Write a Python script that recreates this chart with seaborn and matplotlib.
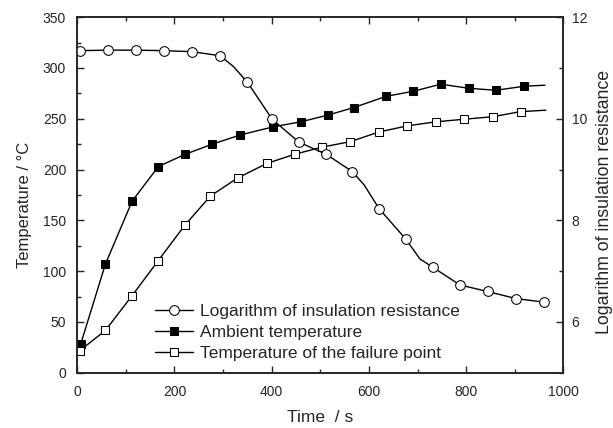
import numpy as np
import matplotlib
matplotlib.use("Agg")
import matplotlib.pyplot as plt
import seaborn as sns
from matplotlib.ticker import MultipleLocator

# data
t_res = [5, 63, 121, 178, 236, 294, 321, 350, 401, 456, 512, 566, 590, 621, 676, 705, 731, 787, 844, 903, 961]
log_res = [11.34, 11.35, 11.35, 11.34, 11.32, 11.24, 11.03, 10.72, 9.99, 9.54, 9.30, 8.96, 8.70,
           8.23, 7.63, 7.24, 7.08, 6.73, 6.60, 6.46, 6.39]
res_marks = [0, 1, 2, 3, 4, 5, 7, 8, 9, 10, 11, 13, 14, 16, 17, 18, 19, 20]

t_amb = [7, 58, 113, 167, 222, 278, 335, 403, 460, 515, 569, 635, 691, 748, 805, 861, 920, 962]
amb_temp = [28, 107, 169, 203, 215, 225, 234, 242, 247, 253.5, 261, 272, 277, 284, 280, 278, 282, 283]

t_fail = [5, 58, 113, 166, 221, 274, 331, 390, 447, 503, 562, 621, 679, 738, 796, 855, 912, 964]
fail_temp = [21.7, 41.7, 76, 110, 145, 174, 192, 206, 215, 222, 227.5, 237, 243, 247, 249.5, 252, 257, 258.4]

labels = ["Logarithm of insulation resistance", "Ambient temperature", "Temperature of the failure point"]

sns.set_style("ticks")
plt.rcParams["font.family"] = ["Liberation Sans", "DejaVu Sans"]
plt.rcParams["xtick.direction"] = "in"
plt.rcParams["ytick.direction"] = "in"

fig = plt.figure(figsize=(6.13, 4.28), dpi=100)
ax = fig.add_axes([0.126, 0.129, 0.793, 0.831])
ax2 = ax.twinx()

sns.lineplot(x=t_amb, y=amb_temp, ax=ax, color="black", lw=1, marker="s", markersize=6,
             markerfacecolor="black", markeredgecolor="black", markevery=list(range(len(t_amb) - 1)),
             label=labels[1], legend=False)
sns.lineplot(x=t_fail, y=fail_temp, ax=ax, color="black", lw=1, marker="s", markersize=6,
             markerfacecolor="white", markeredgecolor="black", markevery=list(range(len(t_fail) - 1)),
             label=labels[2], legend=False)
sns.lineplot(x=t_res, y=log_res, ax=ax2, color="black", lw=1, marker="o", markersize=7,
             markerfacecolor="white", markeredgecolor="black", markevery=res_marks,
             label=labels[0], legend=False)

ax.set_xlim(0, 1000)
ax.set_ylim(0, 350)
ax2.set_ylim(5, 12)
ax.xaxis.set_major_locator(MultipleLocator(200))
ax.xaxis.set_minor_locator(MultipleLocator(100))
ax.yaxis.set_major_locator(MultipleLocator(50))
ax.yaxis.set_minor_locator(MultipleLocator(25))
ax2.yaxis.set_major_locator(MultipleLocator(2))
ax2.yaxis.set_minor_locator(MultipleLocator(1))

for a in (ax, ax2):
    for s in a.spines.values():
        s.set_visible(True)
        s.set_linewidth(1.2)
    a.tick_params(which="major", length=5, width=1, labelsize=10)
    a.tick_params(which="minor", length=3, width=1)
ax.tick_params(which="both", top=True, right=False)
ax.tick_params(axis="x", pad=9)
ax.tick_params(axis="y", pad=8)
ax2.tick_params(which="both", right=True, left=False)
ax2.tick_params(axis="y", pad=6)

ax.set_xlabel("Time  / s", fontsize=12.5, labelpad=8)
ax.set_ylabel("Temperature / \u00b0C", fontsize=12, labelpad=8)
ax2.set_ylabel("Logarithm of insulation resistance", fontsize=12.8, labelpad=6)
ax.yaxis.label.set_y(0.473)
ax2.yaxis.label.set_y(0.48)

handles = [ax2.get_lines()[0], ax.get_lines()[0], ax.get_lines()[1]]
leg = ax.legend(handles, labels, loc="upper left", bbox_to_anchor=(0.2414, 0.306),
                bbox_transform=fig.transFigure, frameon=False, fontsize=12.5,
                handlelength=2.2, handletextpad=0.4, labelspacing=0.33, borderpad=0.4,
                borderaxespad=0)

fig.savefig("out.png", dpi=100)
